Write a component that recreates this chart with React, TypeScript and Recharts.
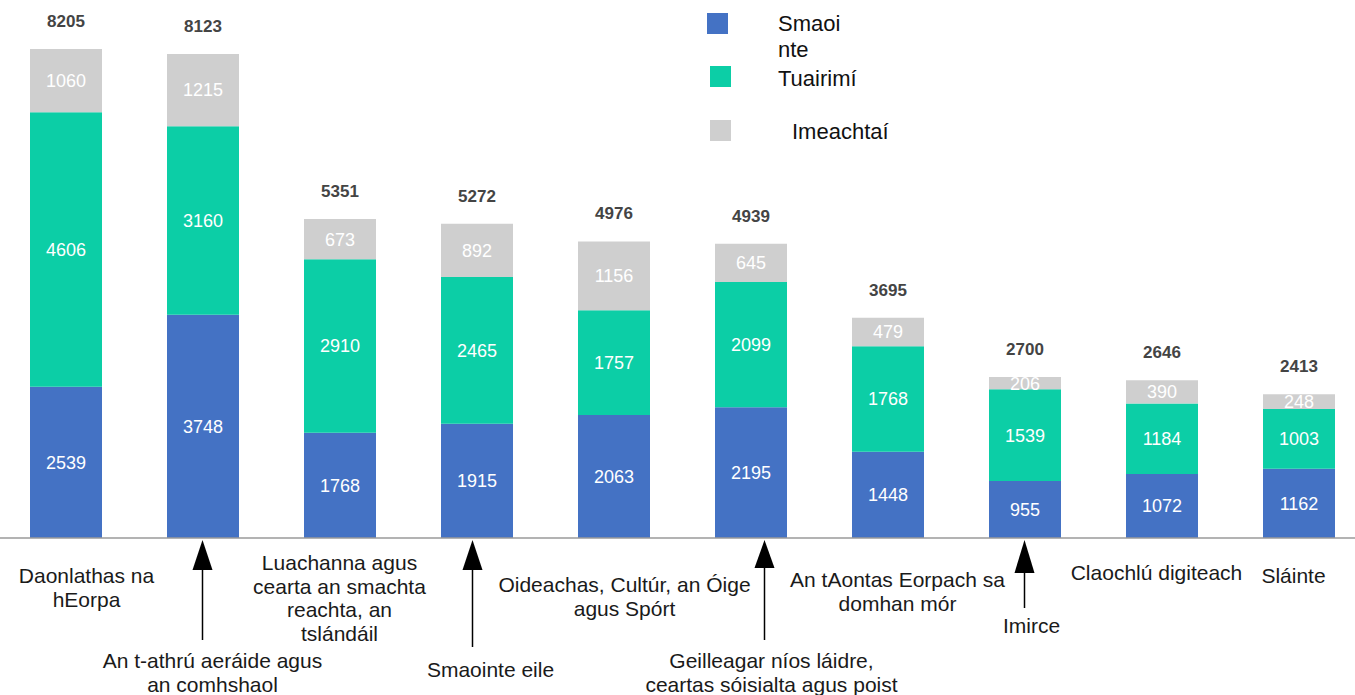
// App.tsx
import React from 'react';
import { BarChart, Bar, XAxis, YAxis, LabelList, Legend } from 'recharts';

const categories = [
  'Daonlathas na\nhEorpa',
  'An t-athrú aeráide agus\nan comhshaol',
  'Luachanna agus\ncearta an smachta\nreachta, an\ntslándáil',
  'Smaointe eile',
  'Oideachas, Cultúr, an Óige\nagus Spórt',
  'Geilleagar níos láidre,\nceartas sóisialta agus poist',
  'An tAontas Eorpach sa\ndomhan mór',
  'Imirce',
  'Claochlú digiteach',
  'Sláinte',
];

const seriesNames = ['Smaointe', 'Tuairimí', 'Imeachtaí'];

const smaointe = [2539, 3748, 1768, 1915, 2063, 2195, 1448, 955, 1072, 1162];
const tuairimi = [4606, 3160, 2910, 2465, 1757, 2099, 1768, 1539, 1184, 1003];
const imeachtai = [1060, 1215, 673, 892, 1156, 645, 479, 206, 390, 248];

const data = categories.map((name, i) => ({
  name,
  smaointe: smaointe[i],
  tuairimi: tuairimi[i],
  imeachtai: imeachtai[i],
  total: smaointe[i] + tuairimi[i] + imeachtai[i],
}));

const maxTotal = Math.max(...data.map((d) => d.total));

// where each category label sits, relative to the tick (bar centre, axis line)
const tickLayout = [
  { dx: 21, y0: 45 },
  { dx: 10, y0: 130, arrow: { ax: 0, base: 32, end: 102 } },
  { dx: 0, y0: 32 },
  { dx: 14, y0: 139, arrow: { ax: -4, base: 32, end: 109 } },
  { dx: 11, y0: 54 },
  { dx: 21, y0: 130, arrow: { ax: 14, base: 30, end: 102 } },
  { dx: 10, y0: 49 },
  { dx: 7, y0: 95, arrow: { ax: 0, base: 35, end: 70 } },
  { dx: -5, y0: 42 },
  { dx: -5, y0: 45 },
];

const CategoryTick = (props: any) => {
  const { x, y, payload } = props;
  const i = categories.indexOf(payload.value);
  const lay: any = tickLayout[i];
  const lines = payload.value.split('\n');
  return (
    <g>
      {lay.arrow && (
        <g>
          <line
            x1={x + lay.arrow.ax}
            x2={x + lay.arrow.ax}
            y1={y + lay.arrow.base}
            y2={y + lay.arrow.end}
            stroke="#000"
            strokeWidth={1.5}
          />
          <polygon
            points={`${x + lay.arrow.ax},${y + 2} ${x + lay.arrow.ax - 10},${y + lay.arrow.base} ${x + lay.arrow.ax + 10},${y + lay.arrow.base}`}
            fill="#000"
          />
        </g>
      )}
      <text textAnchor="middle" fontSize={21} fill="#1a1a1a">
        {lines.map((l: string, k: number) => (
          <tspan key={k} x={x + lay.dx} y={y + lay.y0 + k * 23.5}>
            {l}
          </tspan>
        ))}
      </text>
    </g>
  );
};

const TotalLabel = (props: any) => {
  const { x, y, width, value } = props;
  return (
    <text x={x + width / 2} y={y - 22} textAnchor="middle" fontSize={17} fontWeight="bold" fill="#444">
      {value}
    </text>
  );
};

const legendPos = [
  { sx: 710, sy: 13, tx: 781, ty: 11, w: 68 },
  { sx: 713, sy: 66, tx: 781, ty: 66, w: 200 },
  { sx: 713, sy: 120, tx: 795, ty: 119, w: 200 },
];

const LegendContent = (props: any) => {
  const { payload } = props;
  return (
    <div style={{ position: 'relative', width: 0, height: 0 }}>
      {payload.map((p: any) => {
        const pos = legendPos[seriesNames.indexOf(p.value)];
        return (
          <React.Fragment key={p.value}>
            <div
              style={{
                position: 'absolute',
                left: pos.sx,
                top: pos.sy,
                width: 21,
                height: 21,
                background: p.color,
              }}
            />
            <div
              style={{
                position: 'absolute',
                left: pos.tx,
                top: pos.ty,
                width: pos.w,
                fontSize: 22,
                lineHeight: '26px',
                color: '#111',
                wordBreak: 'break-all',
              }}
            >
              {p.value}
            </div>
          </React.Fragment>
        );
      })}
    </div>
  );
};

const App: React.FC = () => {
  return (
    <div
      style={{
        position: 'absolute',
        left: 0,
        top: 0,
        width: 1355,
        height: 695,
        overflow: 'hidden',
        background: '#fff',
        fontFamily: '"Liberation Sans", Arial, sans-serif',
      }}
    >
      <div style={{ position: 'absolute', left: -3, top: 0 }}>
        <BarChart width={1370} height={695} data={data} margin={{ top: 49, right: 0, bottom: 0, left: 0 }}>
          <XAxis
            dataKey="name"
            height={157}
            interval={0}
            tickLine={false}
            tickSize={0}
            tickMargin={0}
            axisLine={{ stroke: '#9a9a9a', strokeWidth: 1.5 }}
            tick={<CategoryTick />}
          />
          <YAxis hide domain={[0, maxTotal]} />
          <Legend
            verticalAlign="top"
            wrapperStyle={{ left: 0, top: 0, width: 0, height: 0 }}
            content={<LegendContent />}
          />
          <Bar dataKey="smaointe" name={seriesNames[0]} stackId="a" fill="#4472c4" barSize={72} isAnimationActive={false}>
            <LabelList dataKey="smaointe" position="center" fill="#fff" fontSize={18} />
          </Bar>
          <Bar dataKey="tuairimi" name={seriesNames[1]} stackId="a" fill="#0ccea6" barSize={72} isAnimationActive={false}>
            <LabelList dataKey="tuairimi" position="center" fill="#fff" fontSize={18} />
          </Bar>
          <Bar dataKey="imeachtai" name={seriesNames[2]} stackId="a" fill="#cfcfcf" barSize={72} isAnimationActive={false}>
            <LabelList dataKey="imeachtai" position="center" fill="#fff" fontSize={18} />
            <LabelList dataKey="total" content={<TotalLabel />} />
          </Bar>
        </BarChart>
      </div>
    </div>
  );
};

export default App;
